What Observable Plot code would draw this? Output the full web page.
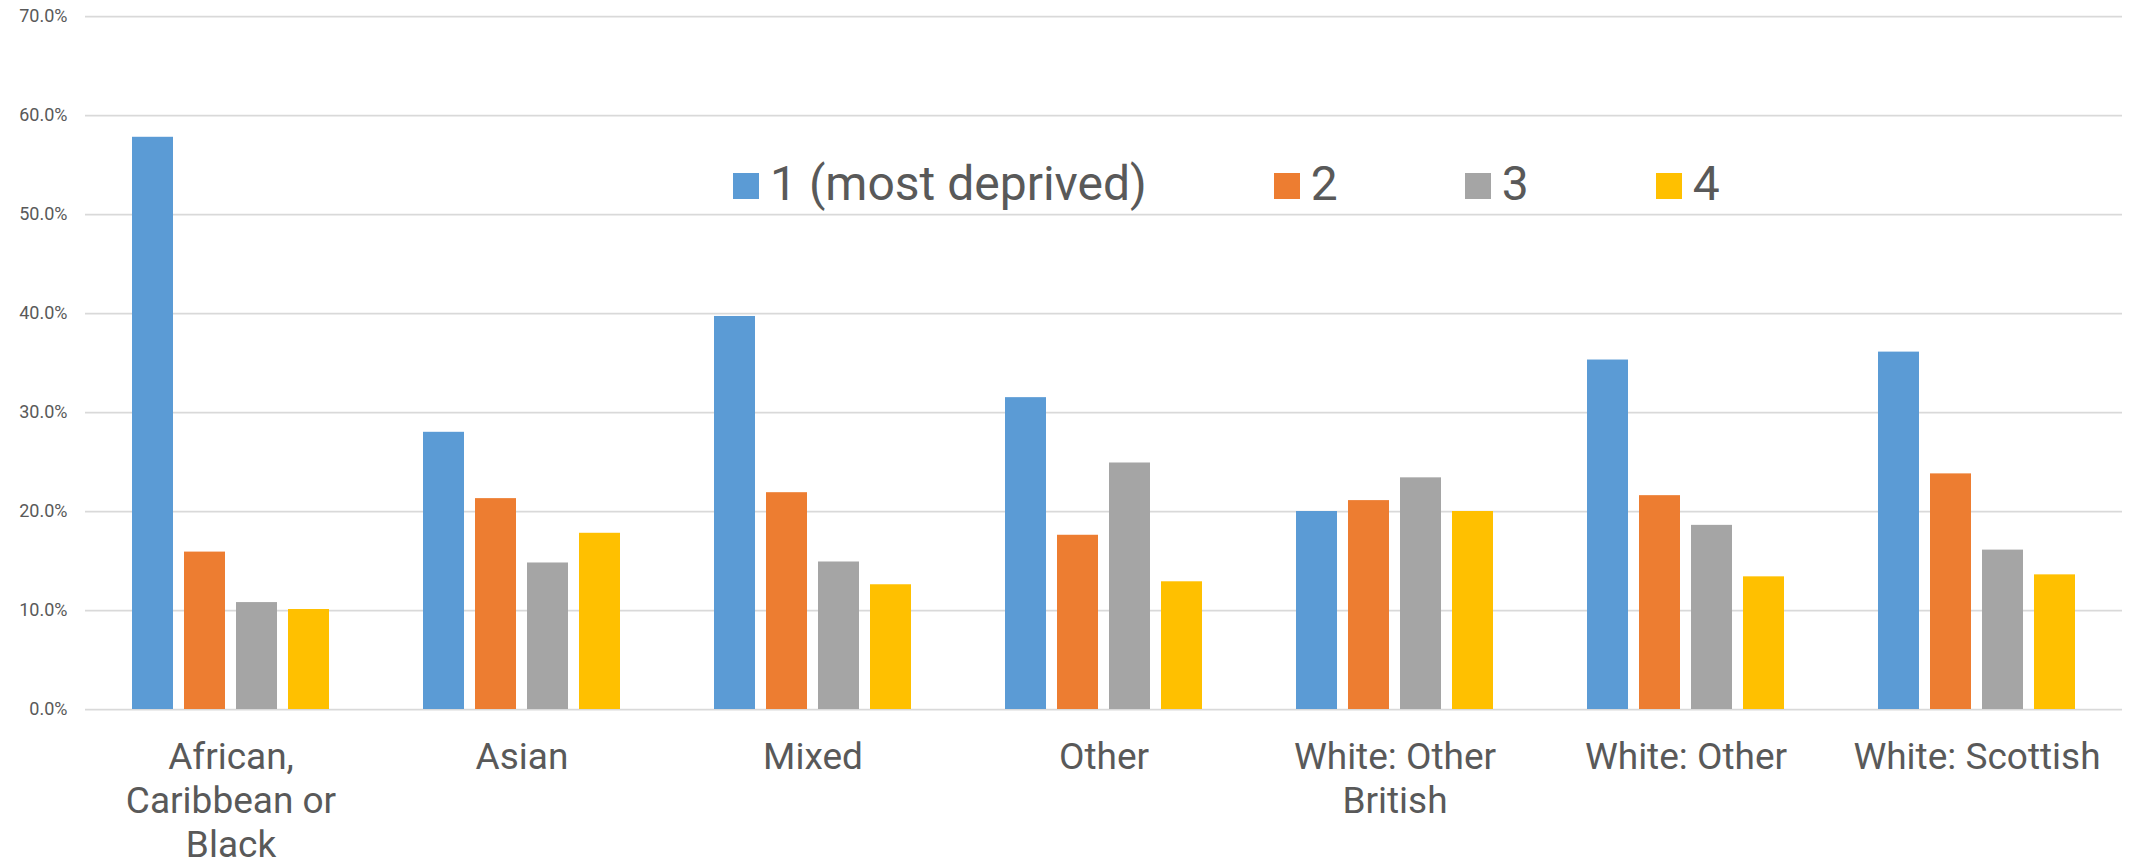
<!DOCTYPE html>
<html>
<head>
<meta charset="utf-8">
<script src="https://cdn.jsdelivr.net/npm/d3@7"></script>
<script src="https://cdn.jsdelivr.net/npm/@observablehq/plot@0.6"></script>
<style>
  body { margin: 0; background: #ffffff; font-family: Roboto, sans-serif; }
  #wrap { position: relative; width: 2129px; height: 861px; overflow: hidden; }
  #legend { position: absolute; left: 733px; top: 160px; display: flex; gap: 127px;
            font-family: Roboto, sans-serif; font-size: 48px; line-height: 1; color: #595959; white-space: nowrap; }
  .item { display: flex; align-items: flex-start; }
  .sw { width: 26px; height: 26px; margin-top: 13px; margin-right: 11px; flex: none; }
</style>
</head>
<body>
<div id="wrap">
  <div id="chart"></div>
  <div id="legend"></div>
</div>
<script>
const categories = ["African, Caribbean or Black", "Asian", "Mixed", "Other", "White: Other British", "White: Other", "White: Scottish"];
const categoryLabels = ["African,\nCaribbean or\nBlack", "Asian", "Mixed", "Other", "White: Other\nBritish", "White: Other", "White: Scottish"];
const series = ["1 (most deprived)", "2", "3", "4"];
const colors = ["#5B9BD5", "#ED7D31", "#A5A5A5", "#FFC000"];
const s1 = [57.8, 28.0, 39.7, 31.5, 20.0, 35.3, 36.1];
const s2 = [15.9, 21.3, 21.9, 17.6, 21.1, 21.6, 23.8];
const s3 = [10.8, 14.8, 14.9, 24.9, 23.4, 18.6, 16.1];
const s4 = [10.1, 17.8, 12.6, 12.9, 20.0, 13.4, 13.6];
const yTicks = [0, 10, 20, 30, 40, 50, 60, 70];

const seriesValues = [s1, s2, s3, s4];
const data = [];
categories.forEach((c, i) => {
  series.forEach((s, j) => data.push({category: c, series: s, value: seriesValues[j][i]}));
});
const labelMap = new Map(categories.map((c, i) => [c, categoryLabels[i]]));

const chart = Plot.plot({
  width: 2129,
  height: 861,
  marginTop: 16,
  marginBottom: 152,
  marginLeft: 84,
  marginRight: 7,
  style: {fontFamily: "Roboto, sans-serif", fontSize: "18px", color: "#595959", background: "#ffffff"},
  fx: {domain: categories, padding: 0},
  x: {domain: series, paddingInner: 0.21, paddingOuter: 0.862, axis: null},
  y: {domain: [0, 70]},
  color: {domain: series, range: colors},
  marks: [
    Plot.ruleY(yTicks, {stroke: "#d9d9d9", strokeWidth: 1.75}),
    Plot.barY(data, {fx: "category", x: "series", y: "value", fill: "series"}),
    Plot.axisY({ticks: yTicks, tickFormat: d => d.toFixed(1) + "%", tickSize: 0, tickPadding: 18,
                fontSize: 18, fill: "#595959", label: null}),
    Plot.axisFx({anchor: "bottom", tickSize: 0, tickPadding: 28, fontSize: 37, lineHeight: 1.19,
                 tickFormat: d => labelMap.get(d), fill: "#595959", label: null})
  ]
});
document.getElementById("chart").appendChild(chart);

const legend = document.getElementById("legend");
series.forEach((s, j) => {
  const item = document.createElement("div");
  item.className = "item";
  const sw = document.createElement("div");
  sw.className = "sw";
  sw.style.background = colors[j];
  const tx = document.createElement("span");
  tx.textContent = s;
  item.appendChild(sw);
  item.appendChild(tx);
  legend.appendChild(item);
});
</script>
</body>
</html>
